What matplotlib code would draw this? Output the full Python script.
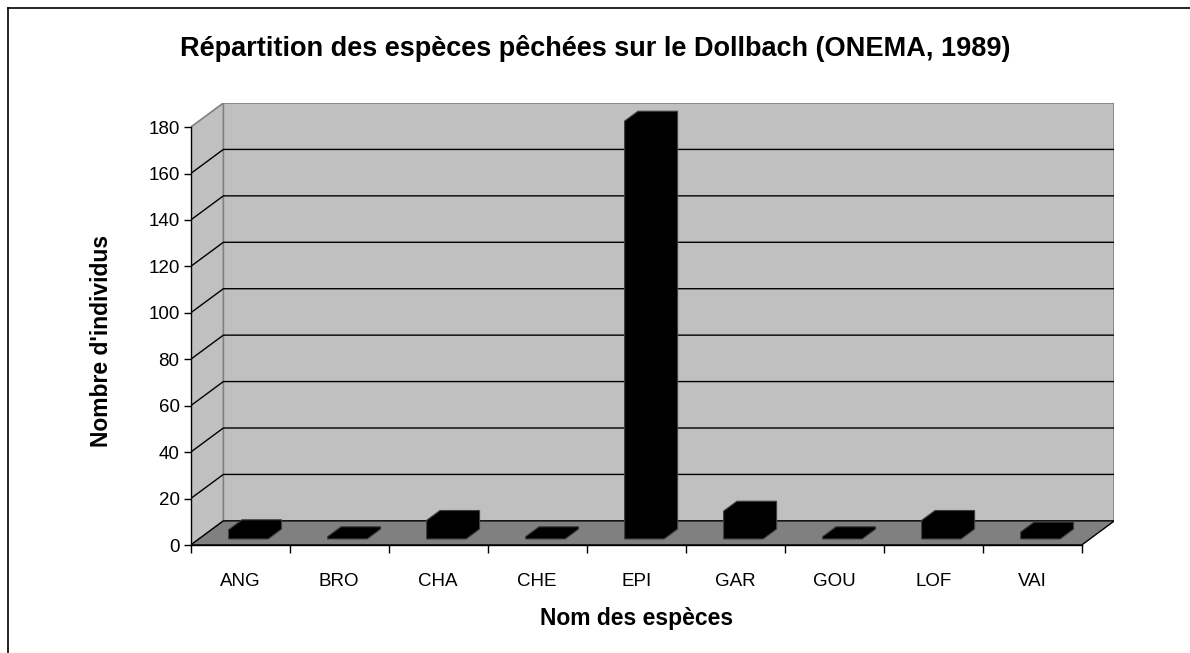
import matplotlib
matplotlib.use("Agg")
import matplotlib.pyplot as plt
from matplotlib.lines import Line2D
from matplotlib.patches import Polygon

# data
species = ["ANG", "BRO", "CHA", "CHE", "EPI", "GAR", "GOU", "LOF", "VAI"]
counts = [4, 1, 8, 1, 180, 12, 1, 8, 3]
y_ticks = [0, 20, 40, 60, 80, 100, 120, 140, 160, 180]

title = "Répartition des espèces pêchées sur le Dollbach (ONEMA, 1989)"
x_label = "Nom des espèces"
y_label = "Nombre d'individus"

W, H = 1190, 653
YMAX = 180
DX, DY = 0.33, 10.4          # depth of the pseudo-3D box, in data units
BAR_D0, BAR_D1 = 0.25, 0.66  # bar depth range (fraction of the box depth)
BAR_W = 0.40

WALL = "#C0C0C0"
FLOOR = "#808080"
EDGE = "#808080"

plt.rcParams["font.family"] = ["Liberation Sans", "DejaVu Sans"]

fig = plt.figure(figsize=(W / 100, H / 100), dpi=100)
ax = fig.add_axes([190.7 / W, 1 - 545 / H, (1114.4 - 190.7) / W, (545 - 103) / H])
n = len(species)
left, right = -0.5, n - 0.5
ax.set_xlim(left, right + DX)
ax.set_ylim(0, YMAX + DY)
ax.patch.set_visible(False)

# walls and floor
back = Polygon([(left + DX, DY), (right + DX, DY), (right + DX, YMAX + DY), (left + DX, YMAX + DY)],
               closed=True, fc=WALL, ec=EDGE, lw=1.2, zorder=1)
side = Polygon([(left, 0), (left + DX, DY), (left + DX, YMAX + DY), (left, YMAX)],
               closed=True, fc=WALL, ec=EDGE, lw=1.2, zorder=1)
floor = Polygon([(left, 0), (right, 0), (right + DX, DY), (left + DX, DY)],
                closed=True, fc=FLOOR, ec="black", lw=1.0, zorder=3)
for p in (back, side, floor):
    ax.add_patch(p)

# gridlines on the side and back walls
for v in y_ticks[1:-1]:
    ax.plot([left, left + DX, right + DX], [v, v + DY, v + DY], color="black", lw=1.0, zorder=2)

# bars as extruded hexagons
for i, v in enumerate(counts):
    x0, x1 = i - BAR_W / 2, i + BAR_W / 2
    pts = [
        (x0 + BAR_D0 * DX, BAR_D0 * DY),
        (x0 + BAR_D0 * DX, v + BAR_D0 * DY),
        (x0 + BAR_D1 * DX, v + BAR_D1 * DY),
        (x1 + BAR_D1 * DX, v + BAR_D1 * DY),
        (x1 + BAR_D1 * DX, BAR_D1 * DY),
        (x1 + BAR_D0 * DX, BAR_D0 * DY),
    ]
    ax.add_patch(Polygon(pts, closed=True, fc="black", ec="#404040", lw=0.8, zorder=4))

# axes
for s in ("top", "right"):
    ax.spines[s].set_visible(False)
ax.spines["left"].set_bounds(0, YMAX)
ax.spines["bottom"].set_bounds(left, right)
for s in ("left", "bottom"):
    ax.spines[s].set_zorder(5)
    ax.spines[s].set_linewidth(1.0)

ax.set_yticks(y_ticks)
ax.set_yticklabels([str(t) for t in y_ticks], fontsize=13.5)
ax.tick_params(axis="y", direction="out", length=5, width=1, pad=3)

ax.set_xticks([left + k for k in range(n + 1)])
ax.set_xticklabels([])
ax.set_xticks(range(n), minor=True)
ax.set_xticklabels(species, minor=True, fontsize=13.5)
ax.tick_params(axis="x", which="major", direction="out", length=6, width=1)
ax.tick_params(axis="x", which="minor", length=0, pad=20)

fig.text(595 / W, 1 - 49 / H, title, ha="center", va="center", fontsize=19.5, fontweight="bold")
fig.text(637 / W, 1 - 618 / H, x_label, ha="center", va="center", fontsize=16.5, fontweight="bold")
fig.text(101 / W, 1 - 341 / H, y_label, ha="center", va="center", rotation=90,
         fontsize=16.5, fontweight="bold")

# chart area border (only top and left visible in the crop)
fig.add_artist(Line2D([8 / W, 8 / W], [0, 1 - 8 / H], color="black", lw=1.2))
fig.add_artist(Line2D([8 / W, 1], [1 - 8 / H, 1 - 8 / H], color="black", lw=1.2))

fig.savefig("out.png", dpi=100)
